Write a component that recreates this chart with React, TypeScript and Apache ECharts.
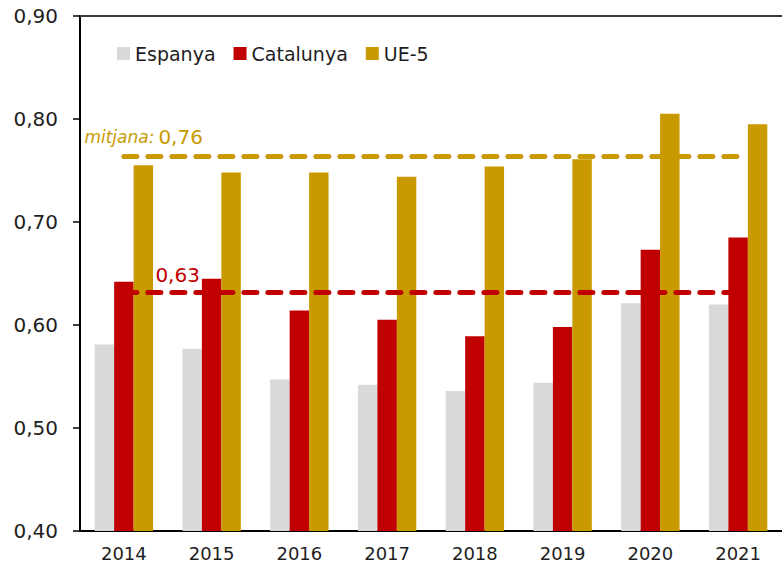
import React, { useEffect, useRef } from "react";
import * as echarts from "echarts";

const years = ["2014", "2015", "2016", "2017", "2018", "2019", "2020", "2021"];
const espanya = [0.581, 0.577, 0.547, 0.542, 0.536, 0.544, 0.621, 0.620];
const catalunya = [0.642, 0.645, 0.614, 0.605, 0.589, 0.598, 0.673, 0.685];
const ue5 = [0.755, 0.748, 0.748, 0.744, 0.754, 0.761, 0.805, 0.795];
const catMean = 0.632;
const ueMean = 0.764;
const meanPrefix = "mitjana:";

const GRAY = "#D9D9D9";
const RED = "#C00000";
const GOLD = "#C99A00";
const TEXT = "#1E1E1E";
const FONT = "DejaVu Sans";

const fmt = (v: number) => v.toFixed(2).replace(".", ",");

export default function App() {
  const ref = useRef<HTMLDivElement>(null);
  useEffect(() => {
    if (!ref.current) return;
    const chart = echarts.init(ref.current, undefined, { renderer: "svg" });
    const dashLine = (color: string) => ({
      color,
      width: 5,
      type: [13, 11],
      cap: "round",
    });
    chart.setOption({
      animation: false,
      textStyle: { fontFamily: FONT },
      grid: { left: 80, top: 16, width: 710, height: 515 },
      legend: {
        left: 117,
        top: 44,
        padding: 0,
        itemWidth: 13,
        itemHeight: 13,
        itemGap: 18,
        icon: "rect",
        textStyle: { fontFamily: FONT, fontSize: 19, color: TEXT },
        data: ["Espanya", "Catalunya", "UE-5"],
      },
      xAxis: [
        {
          type: "category",
          data: years,
          axisLine: { show: true, lineStyle: { color: "#000", width: 2 } },
          axisTick: { show: false },
          axisLabel: { fontFamily: FONT, fontSize: 18, color: TEXT, margin: 13 },
        },
        {
          type: "category",
          data: years,
          position: "top",
          axisLine: { show: true, lineStyle: { color: "#3a3a3a", width: 2 } },
          axisTick: { show: false },
          axisLabel: { show: false },
        },
      ],
      yAxis: {
        type: "value",
        min: 0.4,
        max: 0.9,
        interval: 0.1,
        axisLine: { show: true, lineStyle: { color: "#000", width: 2 } },
        axisTick: { show: true, length: 7, lineStyle: { color: "#000", width: 1.5 } },
        splitLine: { show: false },
        axisLabel: {
          fontFamily: FONT,
          fontSize: 20,
          color: TEXT,
          margin: 22,
          formatter: (v: number) => fmt(v),
        },
      },
      series: [
        {
          name: "Espanya",
          type: "bar",
          data: espanya,
          itemStyle: { color: GRAY },
          barGap: "0%",
          barCategoryGap: "33.5%",
        },
        {
          name: "Catalunya",
          type: "bar",
          data: catalunya,
          itemStyle: { color: RED },
          markLine: {
            silent: true,
            symbol: "none",
            label: { show: false },
            data: [
              [
                { coord: [years[0], catMean], lineStyle: dashLine(RED) },
                { coord: [years[years.length - 1], catMean] },
              ],
              [
                { coord: [years[0], ueMean], lineStyle: dashLine(GOLD) },
                { coord: [years[years.length - 1], ueMean] },
              ],
            ],
          },
          markPoint: {
            silent: true,
            symbol: "rect",
            symbolSize: 0,
            data: [
              {
                coord: [years[0], catMean],
                label: {
                  show: true,
                  position: "inside",
                  align: "left",
                  verticalAlign: "middle",
                  offset: [31.5, -17],
                  formatter: fmt(catMean),
                  fontFamily: FONT,
                  fontSize: 20,
                  color: RED,
                },
              },
              {
                coord: [years[0], ueMean],
                label: {
                  show: true,
                  position: "inside",
                  align: "left",
                  verticalAlign: "middle",
                  offset: [-39.5, -19],
                  formatter: `{i|${meanPrefix}}{n|${fmt(ueMean)}}`,
                  rich: {
                    i: {
                      fontFamily: FONT,
                      fontStyle: "italic",
                      fontSize: 17,
                      color: GOLD,
                      padding: [0, 4, 0, 0],
                    },
                    n: { fontFamily: FONT, fontSize: 20, color: GOLD },
                  },
                },
              },
            ],
          },
        },
        {
          name: "UE-5",
          type: "bar",
          data: ue5,
          itemStyle: { color: GOLD },
        },
      ],
    });
    return () => chart.dispose();
  }, []);
  return (
    <div
      ref={ref}
      style={{ position: "fixed", left: 0, top: 0, width: 782, height: 562, background: "#fff" }}
    />
  );
}
